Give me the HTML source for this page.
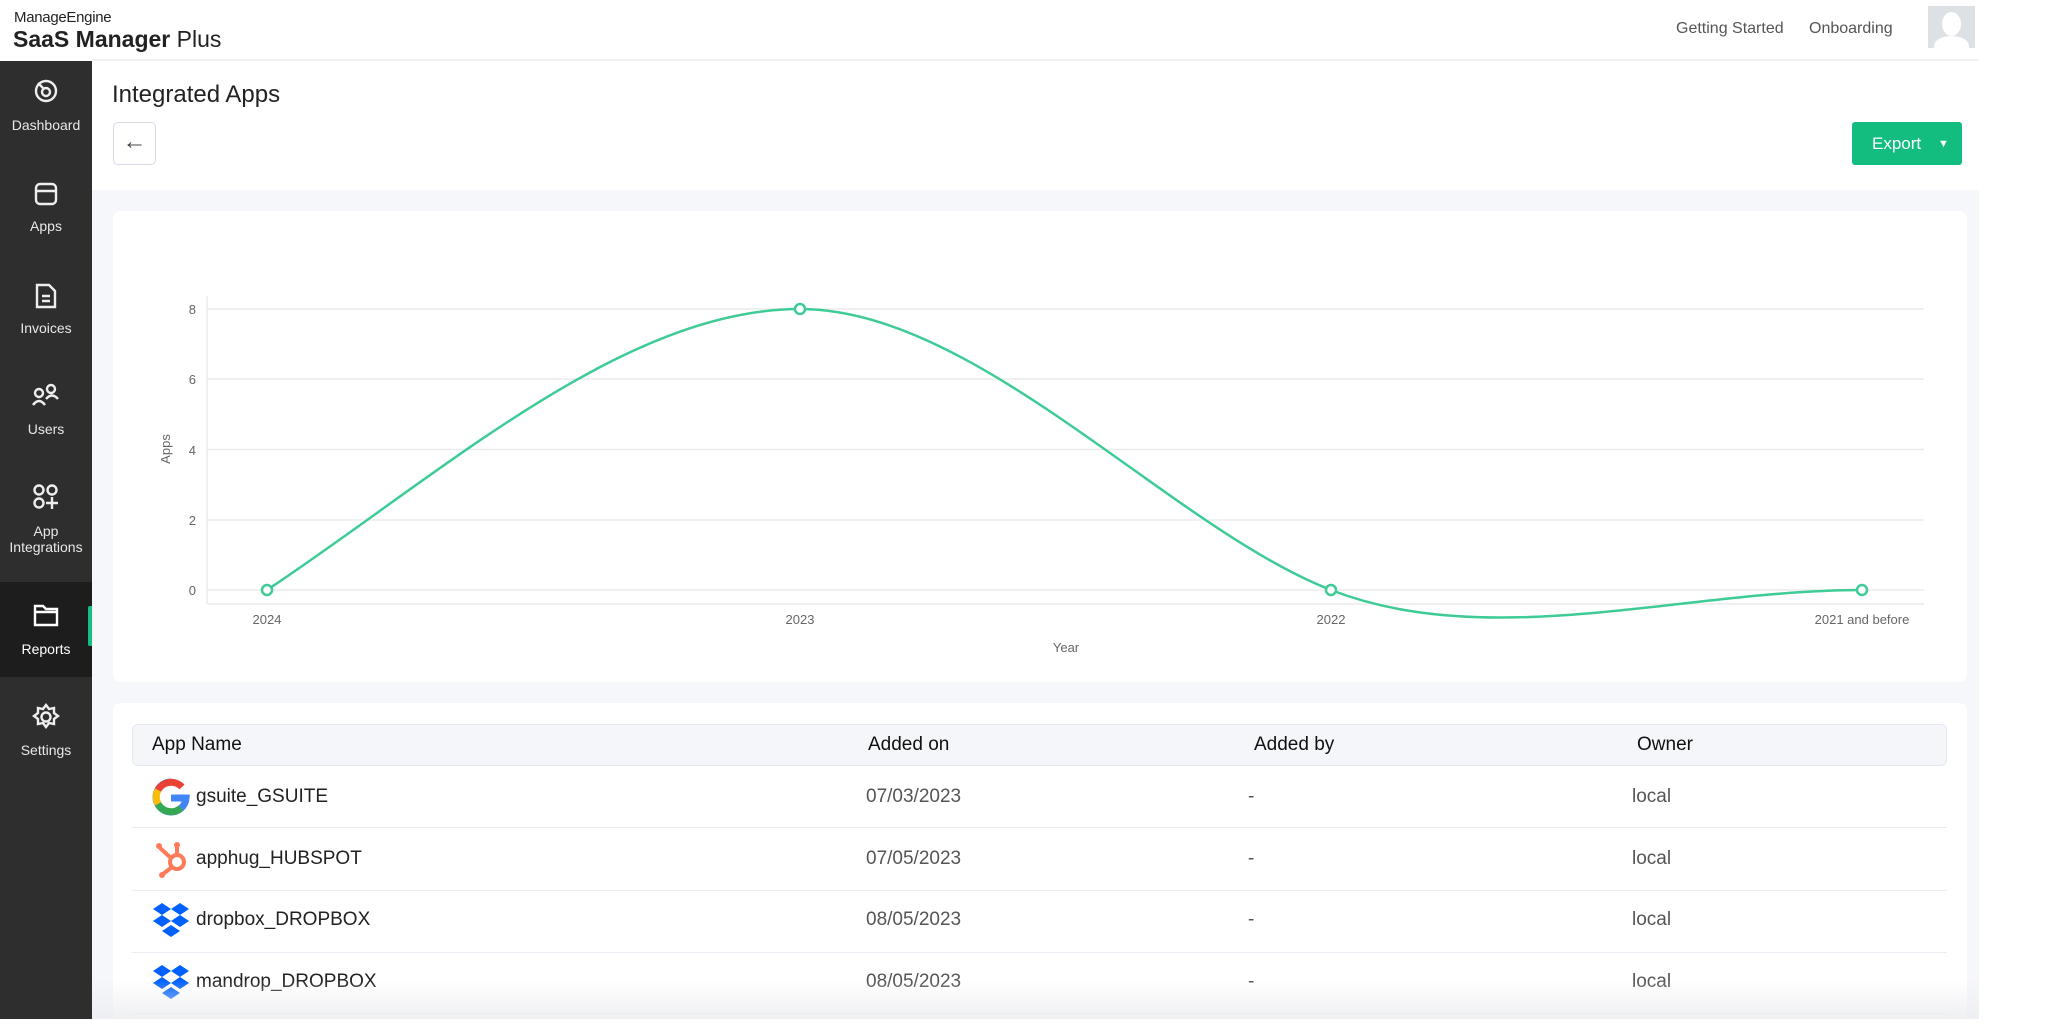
<!DOCTYPE html>
<html><head><meta charset="utf-8"><style>
*{margin:0;padding:0;box-sizing:border-box}
body{width:2048px;height:1019px;overflow:hidden;background:#fff;font-family:"Liberation Sans",sans-serif;position:relative}
.abs{position:absolute}
.side{left:0;top:61px;width:92px;height:958px;background:#2e2e2e}
.item{position:absolute;left:0;width:92px;text-align:center;color:#e8e8e8;font-size:14px}
.t{position:absolute;white-space:nowrap}
.row{position:absolute;left:132px;width:1815px;height:1px;background:#e8ecf3}
.cell{position:absolute;font-size:19px;color:#333;transform:translateY(-50%)}
</style></head><body>
<div class="t" style="left:14px;top:9px;font-size:15px;color:#222;letter-spacing:-0.3px">ManageEngine</div>
<div class="t" style="left:13px;top:26px;font-size:23px;color:#222"><b>SaaS Manager</b> Plus</div>
<div class="t" style="left:1676px;top:20px;font-size:16px;color:#555">Getting Started</div>
<div class="t" style="left:1809px;top:20px;font-size:16px;color:#555">Onboarding</div>
<div class="abs" style="left:1928px;top:6px;width:47px;height:42px;background:#dde1e6;overflow:hidden"><div class="abs" style="left:14px;top:6px;width:19px;height:24px;border-radius:50%;background:#fff"></div><div class="abs" style="left:6px;top:30px;width:35px;height:20px;border-radius:50% 50% 0 0;background:#fff"></div></div>
<div class="abs" style="left:92px;top:59px;width:1887px;height:2px;background:#f0f1f4"></div>
<div class="abs side"></div>
<div class="abs" style="left:0;top:582px;width:92px;height:95px;background:#1d1d1d"></div>
<div class="abs" style="left:88px;top:606px;width:5px;height:40px;background:#16be84;border-radius:2px 0 0 2px"></div>
<div class="item" style="top:78px"><svg width="26" height="26" viewBox="0 0 26 26" fill="none" stroke="#eee" stroke-width="2.4"><circle cx="13" cy="13" r="10"/><circle cx="13" cy="14" r="4"/><path d="M5 5l6 6"/></svg></div>
<div class="item" style="top:117px">Dashboard</div>
<div class="item" style="top:181px"><svg width="26" height="26" viewBox="0 0 26 26" fill="none" stroke="#eee" stroke-width="2.4"><rect x="3" y="3" width="20" height="20" rx="4"/><path d="M3 10h20"/></svg></div>
<div class="item" style="top:218px">Apps</div>
<div class="item" style="top:282px"><svg width="24" height="28" viewBox="0 0 24 28" fill="none" stroke="#eee" stroke-width="2.4"><path d="M3 3h12l6 6v16H3z"/><path d="M8 14h8M8 19h8"/></svg></div>
<div class="item" style="top:320px">Invoices</div>
<div class="item" style="top:383px"><svg width="30" height="24" viewBox="0 0 30 24" fill="none" stroke="#eee" stroke-width="2.4"><circle cx="8" cy="10" r="4"/><circle cx="20" cy="6" r="4"/><path d="M2 22q6-8 12 0M15 16q6-7 12 0"/></svg></div>
<div class="item" style="top:421px">Users</div>
<div class="item" style="top:483px"><svg width="30" height="28" viewBox="0 0 30 28" fill="none" stroke="#eee" stroke-width="2.4"><circle cx="8" cy="7" r="4.5"/><circle cx="21" cy="7" r="4.5"/><circle cx="8" cy="20" r="4.5"/><path d="M21 14v12M15 20h12"/></svg></div>
<div class="item" style="top:523px;line-height:16px">App<br>Integrations</div>
<div class="item" style="top:602px"><svg width="28" height="26" viewBox="0 0 28 26" fill="none" stroke="#fff" stroke-width="2.4"><path d="M3 4h8l3 3h11v16H3z"/><path d="M3 10h22"/></svg></div>
<div class="item" style="top:641px;color:#fff">Reports</div>
<div class="item" style="top:703px"><svg width="28" height="28" viewBox="0 0 28 28" fill="none" stroke="#eee" stroke-width="2.4"><circle cx="14" cy="14" r="4.5"/><path d="M14 2l3 4 5-1 0 5 4 3-4 3 0 5-5-1-3 4-3-4-5 1 0-5-4-3 4-3 0-5 5 1z"/></svg></div>
<div class="item" style="top:742px">Settings</div>
<div class="t" style="left:112px;top:81px;font-size:24px;color:#222">Integrated Apps</div>
<div class="abs" style="left:113px;top:122px;width:43px;height:43px;border:1px solid #d5dbe8;border-radius:5px;background:#fff;text-align:center;font-size:24px;line-height:38px;color:#444">&#8592;</div>
<div class="abs" style="left:1852px;top:122px;width:110px;height:43px;background:#13bd7f;border-radius:3px;color:#fff;font-size:17px;line-height:43px;padding-left:20px">Export<span style="position:absolute;left:86px;top:1px;font-size:11px">&#9660;</span></div>
<div class="abs" style="left:92px;top:190px;width:1887px;height:829px;background:#f6f7fb"></div>
<div class="abs" style="left:113px;top:211px;width:1854px;height:471px;background:#fff;border-radius:8px"></div>
<svg class="abs" style="left:0;top:0" width="2048" height="700">
<g stroke="#ececec" stroke-width="1.5">
<line x1="207" y1="309" x2="1924" y2="309"/><line x1="207" y1="379" x2="1924" y2="379"/><line x1="207" y1="449.5" x2="1924" y2="449.5"/><line x1="207" y1="520" x2="1924" y2="520"/><line x1="207" y1="590" x2="1924" y2="590"/><line x1="207" y1="604" x2="1924" y2="604"/><line x1="207" y1="296" x2="207" y2="604"/>
</g>
<g font-family="Liberation Sans" font-size="13" fill="#666" text-anchor="end">
<text x="196" y="314">8</text><text x="196" y="384">6</text><text x="196" y="455">4</text><text x="196" y="525">2</text><text x="196" y="595">0</text></g>
<g font-family="Liberation Sans" font-size="13" fill="#666" text-anchor="middle">
<text x="267" y="624">2024</text><text x="800" y="624">2023</text><text x="1331" y="624">2022</text><text x="1862" y="624">2021 and before</text>
<text x="1066" y="652">Year</text>
<text transform="translate(170,449) rotate(-90)">Apps</text></g>
<path d="M267 590C440 475 623 309 800 309C977 309 1171 528 1331 590C1491 652 1685 590 1862 590" fill="none" stroke="#3ecb95" stroke-width="2.5"/>
<g fill="#fff" stroke="#3ecb95" stroke-width="2.5"><circle cx="267" cy="590" r="5"/><circle cx="800" cy="309" r="5"/><circle cx="1331" cy="590" r="5"/><circle cx="1862" cy="590" r="5"/></g>
</svg>
<div class="abs" style="left:113px;top:703px;width:1854px;height:330px;background:#fff;border-radius:8px"></div>
<div class="abs" style="left:132px;top:724px;width:1815px;height:42px;background:#f4f6fa;border:1px solid #e3e8f0;border-radius:6px"></div>
<div class="cell" style="left:152px;top:745px;color:#111">App Name</div>
<div class="cell" style="left:868px;top:745px;color:#111">Added on</div>
<div class="cell" style="left:1254px;top:745px;color:#111">Added by</div>
<div class="cell" style="left:1637px;top:745px;color:#111">Owner</div>
<div class="row" style="top:827px"></div><div class="row" style="top:890px"></div><div class="row" style="top:952px"></div><div class="row" style="top:1013px"></div>
<svg class="abs" style="left:152px;top:778px" width="38" height="38" viewBox="0 0 38 38"><path d="M19 4a15 15 0 1 0 15 16H19" fill="none" stroke="#4285f4" stroke-width="7"/><path d="M30 9A15 15 0 0 0 6 12" fill="none" stroke="#ea4335" stroke-width="7"/><path d="M6 12A15 15 0 0 0 6 26" fill="none" stroke="#fbbc05" stroke-width="7"/><path d="M6 26A15 15 0 0 0 29 30" fill="none" stroke="#34a853" stroke-width="7"/></svg>
<svg class="abs" style="left:155px;top:840px" width="36" height="38" viewBox="0 0 36 38"><g fill="none" stroke="#ff7a59" stroke-width="4"><circle cx="22" cy="22" r="7"/><path d="M22 15V6M16 18L5 8M17 27l-9 7"/></g><circle cx="22" cy="5" r="3" fill="#ff7a59"/><circle cx="4" cy="6" r="3" fill="#ff7a59"/><circle cx="7" cy="35" r="3" fill="#ff7a59"/></svg>
<svg class="abs" style="left:152px;top:901px" width="38" height="38" viewBox="0 0 38 38"><g fill="#0061fe"><path d="M10 2l9 6-9 6-9-6zM28 2l9 6-9 6-9-6zM10 14l9 6-9 6-9-6zM28 14l9 6-9 6-9-6zM19 24l9 6-9 6-9-6z"/></g></svg>
<svg class="abs" style="left:152px;top:963px" width="38" height="38" viewBox="0 0 38 38"><g fill="#0061fe"><path d="M10 2l9 6-9 6-9-6zM28 2l9 6-9 6-9-6zM10 14l9 6-9 6-9-6zM28 14l9 6-9 6-9-6zM19 24l9 6-9 6-9-6z"/></g></svg>
<div class="cell" style="left:196px;top:797px;color:#222">gsuite_GSUITE</div>
<div class="cell" style="left:196px;top:859px;color:#222">apphug_HUBSPOT</div>
<div class="cell" style="left:196px;top:920px;color:#222">dropbox_DROPBOX</div>
<div class="cell" style="left:196px;top:982px;color:#222">mandrop_DROPBOX</div>
<div class="cell" style="left:866px;top:797px;color:#555">07/03/2023</div>
<div class="cell" style="left:866px;top:859px;color:#555">07/05/2023</div>
<div class="cell" style="left:866px;top:920px;color:#555">08/05/2023</div>
<div class="cell" style="left:866px;top:982px;color:#555">08/05/2023</div>
<div class="cell" style="left:1248px;top:797px;color:#555">-</div>
<div class="cell" style="left:1248px;top:859px;color:#555">-</div>
<div class="cell" style="left:1248px;top:920px;color:#555">-</div>
<div class="cell" style="left:1248px;top:982px;color:#555">-</div>
<div class="cell" style="left:1632px;top:797px;color:#555">local</div>
<div class="cell" style="left:1632px;top:859px;color:#555">local</div>
<div class="cell" style="left:1632px;top:920px;color:#555">local</div>
<div class="cell" style="left:1632px;top:982px;color:#555">local</div>
<div class="abs" style="left:92px;top:980px;width:1887px;height:39px;background:linear-gradient(rgba(240,241,244,0),rgba(236,237,240,0.85))"></div>
</body></html>
